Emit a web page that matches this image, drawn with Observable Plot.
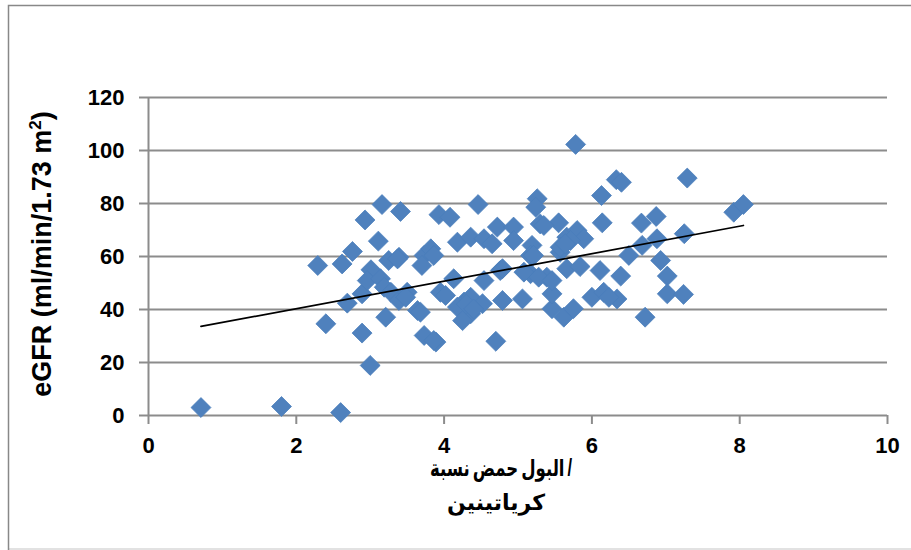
<!DOCTYPE html>
<html>
<head>
<meta charset="utf-8">
<script src="https://cdn.jsdelivr.net/npm/d3@7"></script>
<script src="https://cdn.jsdelivr.net/npm/@observablehq/plot@0.6"></script>
<style>
  html, body { margin: 0; padding: 0; background: #fff; }
  #chart { position: relative; width: 911px; height: 550px; }
  .xt { position: absolute; top: 0; white-space: nowrap; direction: ltr; line-height: 1;
        font-family: 'Liberation Sans', 'DejaVu Sans', sans-serif; font-weight: bold; color: #000;
        transform-origin: 0 50%; }
  .xt span { display: inline-block; margin-right: 4px; }
  .xt span:last-child { margin-right: 0; }
</style>
</head>
<body>
<div id="chart"></div>
<script>
// Uric acid / creatinine ratio (x) vs eGFR (y)
const ratio = [0.71,1.80,2.60,2.29,2.40,2.62,2.76,2.89,3.00,2.93,3.16,3.11,3.21,2.69,2.89,3.01,2.96,3.14,3.19,3.25,
  3.39,3.41,3.28,3.39,3.50,3.48,3.64,3.73,3.89,3.73,3.70,3.82,3.86,3.93,4.08,4.46,4.18,4.36,4.54,4.65,
  4.72,4.94,4.94,5.26,5.24,5.30,5.55,5.19,5.17,5.66,5.80,5.89,5.57,4.76,4.13,4.54,5.17,5.39,5.66,3.95,
  4.02,4.27,4.18,4.36,4.52,4.36,4.25,4.79,5.06,5.46,5.62,5.75,5.46,4.70,3.68,5.78,6.33,6.40,7.29,6.13,
  7.92,8.05,6.14,6.67,6.87,7.25,6.88,6.68,6.50,6.93,7.02,6.39,6.11,5.84,7.02,7.24,6.72,6.00,6.16,6.34,
  6.23,5.71,5.57,5.35,5.08,4.79,5.28,5.21,3.37,4.30,4.40,5.46,5.64,3.86];
const egfr = [3.0,3.4,1.1,56.6,34.6,57.2,61.9,31.1,18.9,73.8,79.6,65.8,37.1,42.4,45.9,55.0,50.9,51.6,48.4,58.5,
  59.7,77.0,46.5,43.4,46.5,44.6,39.6,30.2,27.7,60.4,56.6,62.9,60.4,75.8,74.8,79.6,65.4,67.3,66.7,64.8,
  71.1,71.1,66.0,81.8,78.6,72.3,72.7,64.2,60.4,67.3,69.8,66.7,61.6,54.7,51.6,50.9,53.5,52.2,55.4,46.5,
  45.3,42.8,40.9,44.6,42.2,38.4,35.8,43.4,44.0,40.3,37.1,40.3,45.9,28.0,39.0,102.3,89.0,88.0,89.6,83.0,
  76.7,79.6,72.7,72.6,75.1,68.6,66.7,64.2,60.4,58.5,52.6,52.6,54.7,56.2,45.9,45.7,37.1,44.6,46.5,44.0,
  44.6,66.0,63.5,71.7,54.1,55.4,52.2,60.4,59.1,42.0,40.2,50.9,64.8,28.3];
// Linear trend line endpoints
const trendX = [0.71, 8.05];
const trendY = [33.6, 71.7];
// Axis ticks and labels
const xTicks = [0, 2, 4, 6, 8, 10];
const yTicks = [0, 20, 40, 60, 80, 100, 120];
const xTitleLine1 = ["نسبة", "حمض", "البول", "/"];
const xTitleLine2 = ["كرياتينين"];

const points = ratio.map((r, i) => ({x: r, y: egfr[i]}));
const trend = trendX.map((t, i) => ({x: t, y: trendY[i]}));

const font = "'Liberation Sans', 'DejaVu Sans', sans-serif";
const gridColor = "#8c8c8c";

const plot = Plot.plot({
  width: 911,
  height: 550,
  marginLeft: 148,
  marginRight: 24,
  marginTop: 97,
  marginBottom: 135,
  style: {fontFamily: font, background: "transparent", overflow: "visible"},
  x: {domain: [0, 10], ticks: xTicks, label: null},
  y: {domain: [0, 120], ticks: yTicks, label: null},
  marks: [
    Plot.ruleY(yTicks.filter(d => d > 0), {stroke: gridColor, strokeWidth: 2}),
    Plot.ruleY([0], {stroke: gridColor, strokeWidth: 2, x1: 0, x2: 10}),
    Plot.ruleX([0], {stroke: gridColor, strokeWidth: 2, y1: 0, y2: 120}),
    Plot.axisY({ticks: yTicks, tickSize: 9, tickPadding: 15, stroke: gridColor, strokeWidth: 2,
      fontSize: 22, fontWeight: "bold", fill: "#000", label: null}),
    Plot.axisX({ticks: xTicks, tickSize: 9, tickPadding: 13, stroke: gridColor, strokeWidth: 2,
      fontSize: 22, fontWeight: "bold", fill: "#000", label: null}),
    Plot.dot(points, {x: "x", y: "y", symbol: "diamond2", r: 9, fill: "#4F81BD", stroke: "#4A7EBB", strokeWidth: 0.75}),
    Plot.line(trend, {x: "x", y: "y", stroke: "#000", strokeWidth: 1.75})
  ]
});

const svg = d3.select(plot);
// chart frame
svg.insert("path", ":first-child")
  .attr("d", "M8.5,560 L8.5,5.5 L920,5.5")
  .attr("fill", "none").attr("stroke", "#888").attr("stroke-width", 1.5);
svg.insert("line", ":first-child")
  .attr("x1", 8).attr("x2", 911).attr("y1", 549).attr("y2", 549)
  .attr("stroke", "#d9d9d9").attr("stroke-width", 1.5);

// y-axis title
svg.append("text")
  .attr("transform", "translate(51,254) rotate(-90)")
  .attr("text-anchor", "middle")
  .attr("font-family", font).attr("font-weight", "bold").attr("font-size", 27)
  .attr("fill", "#000")
  .html("eGFR (ml/min/1.73 m<tspan dy='-10' font-size='17'>2</tspan><tspan dy='10'>)</tspan>");

const chart = document.getElementById("chart");
chart.appendChild(plot);

// x-axis title: two lines, words laid out left to right as in the original
function titleLine(words, size, left, top, targetWidth) {
  const d = document.createElement("div");
  d.className = "xt";
  d.style.fontSize = size + "px";
  words.forEach(w => { const s = document.createElement("span"); s.textContent = w; d.appendChild(s); });
  chart.appendChild(d);
  d.style.left = left + "px";
  d.style.top = top + "px";
  if (targetWidth) {
    const w = d.getBoundingClientRect().width;
    if (w > targetWidth) d.style.transform = `scaleX(${targetWidth / w})`;
  }
  return d;
}
titleLine(xTitleLine1, 23, 430, 457, 142);
titleLine(xTitleLine2, 22, 447, 492);
</script>
</body>
</html>
